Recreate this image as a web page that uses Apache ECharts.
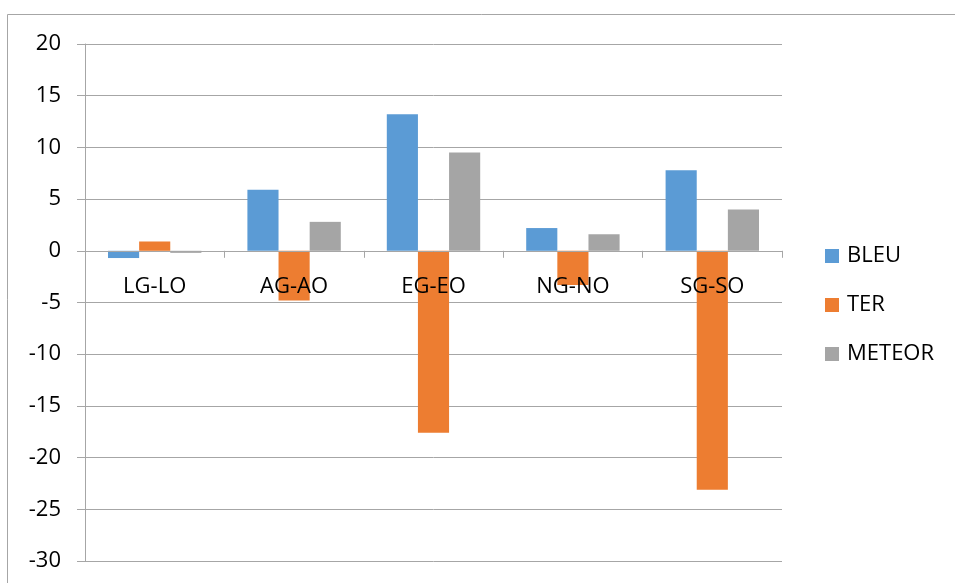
<!DOCTYPE html>
<html>
<head>
<meta charset="utf-8">
<script src="https://cdn.jsdelivr.net/npm/echarts@6/dist/echarts.min.js"></script>
<style>html,body{margin:0;padding:0;background:#fff;}#c{width:955px;height:583px;}</style>
</head>
<body>
<div id="c"></div>
<script>
var categories = ['LG-LO', 'AG-AO', 'EG-EO', 'NG-NO', 'SG-SO'];
var bleu = [-0.7, 5.9, 13.2, 2.2, 7.8];
var ter = [0.9, -4.8, -17.6, -3.3, -23.1];
var meteor = [-0.2, 2.8, 9.5, 1.6, 4.0];
var yTicks = { min: -30, max: 20, interval: 5 };

var FONT = 'Open Sans';
var chart = echarts.init(document.getElementById('c'));
function mk(name, data, color) {
  return { name: name, type: 'bar', data: data, barGap: '0%', barCategoryGap: '33%', z: 2,
    itemStyle: { color: color }, emphasis: { disabled: true } };
}
chart.setOption({
  animation: false,
  textStyle: { fontFamily: FONT },
  graphic: [{ type: 'rect', shape: { x: 7.5, y: 14.5, width: 2000, height: 2000 },
    style: { fill: 'none', stroke: '#a6a6a6', lineWidth: 1 }, silent: true }],
  grid: { left: 85, right: 173, top: 44, bottom: 22, containLabel: false, outerBoundsMode: 'none' },
  legend: {
    orient: 'vertical', left: 825, top: 245, padding: 0, itemWidth: 14, itemHeight: 14, itemGap: 27,
    icon: 'rect', textStyle: { fontSize: 22, lineHeight: 22, color: '#000', fontFamily: FONT, padding: [0,0,0,3] },
    data: ['BLEU', 'TER', 'METEOR']
  },
  xAxis: {
    type: 'category', data: categories, position: 'bottom', offset: 0, z: 10,
    axisLine: { onZero: false, lineStyle: { color: '#a6a6a6', width: 1 } },
    axisTick: { show: true, length: 7, lineStyle: { color: '#a6a6a6' } },
    axisLabel: { fontSize: 22, color: '#000', margin: 25, fontFamily: FONT },
    splitLine: { show: false }
  },
  yAxis: {
    type: 'value', min: yTicks.min, max: yTicks.max, interval: yTicks.interval,
    axisLine: { show: true, lineStyle: { color: '#a6a6a6', width: 1 } },
    axisTick: { show: true, length: 8, lineStyle: { color: '#a6a6a6' } },
    axisLabel: { fontSize: 22, color: '#000', margin: 24, fontFamily: FONT },
    splitLine: { show: true, lineStyle: { color: '#a6a6a6', width: 1 } }
  },
  series: [mk('BLEU', bleu, '#5b9bd5'), mk('TER', ter, '#ed7d31'), mk('METEOR', meteor, '#a5a5a5')]
});
// move the category axis (line, ticks, labels) up to the zero line
var zeroY = chart.convertToPixel({ yAxisIndex: 0 }, 0);
var bottomY = chart.convertToPixel({ yAxisIndex: 0 }, yTicks.min);
chart.setOption({ xAxis: { offset: zeroY - bottomY } });
</script>
</body>
</html>
